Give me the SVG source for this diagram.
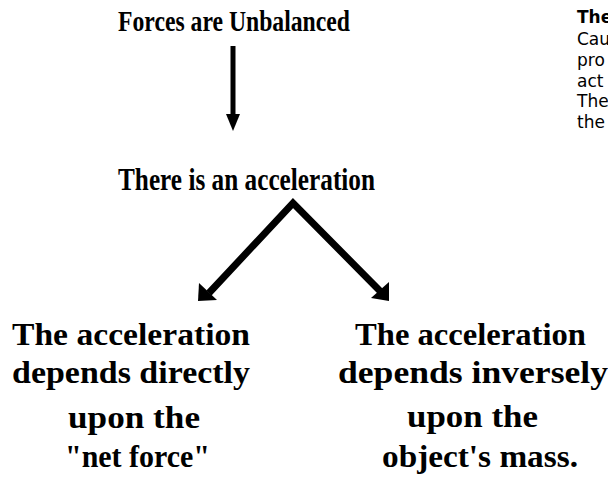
<svg xmlns="http://www.w3.org/2000/svg" width="608" height="481" viewBox="0 0 608 481">
<style>
.t{font-family:"Liberation Serif","Times New Roman",serif;font-weight:bold;fill:#000;}
.s{font-family:"DejaVu Sans","Verdana",sans-serif;font-size:17px;fill:#000;}
.c{stroke:#000;fill:none;stroke-linecap:butt;}
</style>
<rect width="608" height="481" fill="#fff"/>
<g id="node-unbalanced">
<text class="t" x="118" y="31" font-size="29" textLength="232" lengthAdjust="spacingAndGlyphs">Forces are Unbalanced</text>
</g>
<g id="node-acceleration">
<text class="t" x="118" y="190" font-size="31" textLength="257" lengthAdjust="spacingAndGlyphs">There is an acceleration</text>
</g>
<g id="node-net-force">
<text class="t" x="12" y="345" font-size="31" textLength="238" lengthAdjust="spacingAndGlyphs">The acceleration</text>
<text class="t" x="12" y="383" font-size="31" textLength="238" lengthAdjust="spacingAndGlyphs">depends directly</text>
<text class="t" x="68" y="428" font-size="31" textLength="132" lengthAdjust="spacingAndGlyphs">upon the</text>
<text class="t" x="65" y="467" font-size="31" textLength="145" lengthAdjust="spacingAndGlyphs">"net force"</text>
</g>
<g id="node-mass">
<text class="t" x="355" y="345" font-size="31" textLength="231" lengthAdjust="spacingAndGlyphs">The acceleration</text>
<text class="t" x="338" y="383" font-size="31" textLength="270" lengthAdjust="spacingAndGlyphs">depends inversely</text>
<text class="t" x="407" y="427" font-size="31" textLength="131" lengthAdjust="spacingAndGlyphs">upon the</text>
<text class="t" x="382" y="467" font-size="31" textLength="196" lengthAdjust="spacingAndGlyphs">object's mass.</text>
</g>
<g id="node-side-text">
<text class="s" x="577" y="23" font-weight="bold">The</text>
<text class="s" x="577" y="45">Cau</text>
<text class="s" x="577" y="66">pro</text>
<text class="s" x="577" y="87">act</text>
<text class="s" x="577" y="107">The</text>
<text class="s" x="577" y="128">the</text>
</g>
<g id="connectors">
<line class="c" x1="233" y1="46" x2="233" y2="118" stroke-width="5"/>
<path d="M226,114 L240,114 L233,131 z" fill="#000"/>
<path class="c" d="M209,293 L293,203 L380,291" stroke-width="7" stroke-linejoin="miter"/>
<path d="M199,283 L217,300 L198,301 z" fill="#000"/>
<path d="M389,282 L389,301 L371,298 z" fill="#000"/>
</g>
</svg>
